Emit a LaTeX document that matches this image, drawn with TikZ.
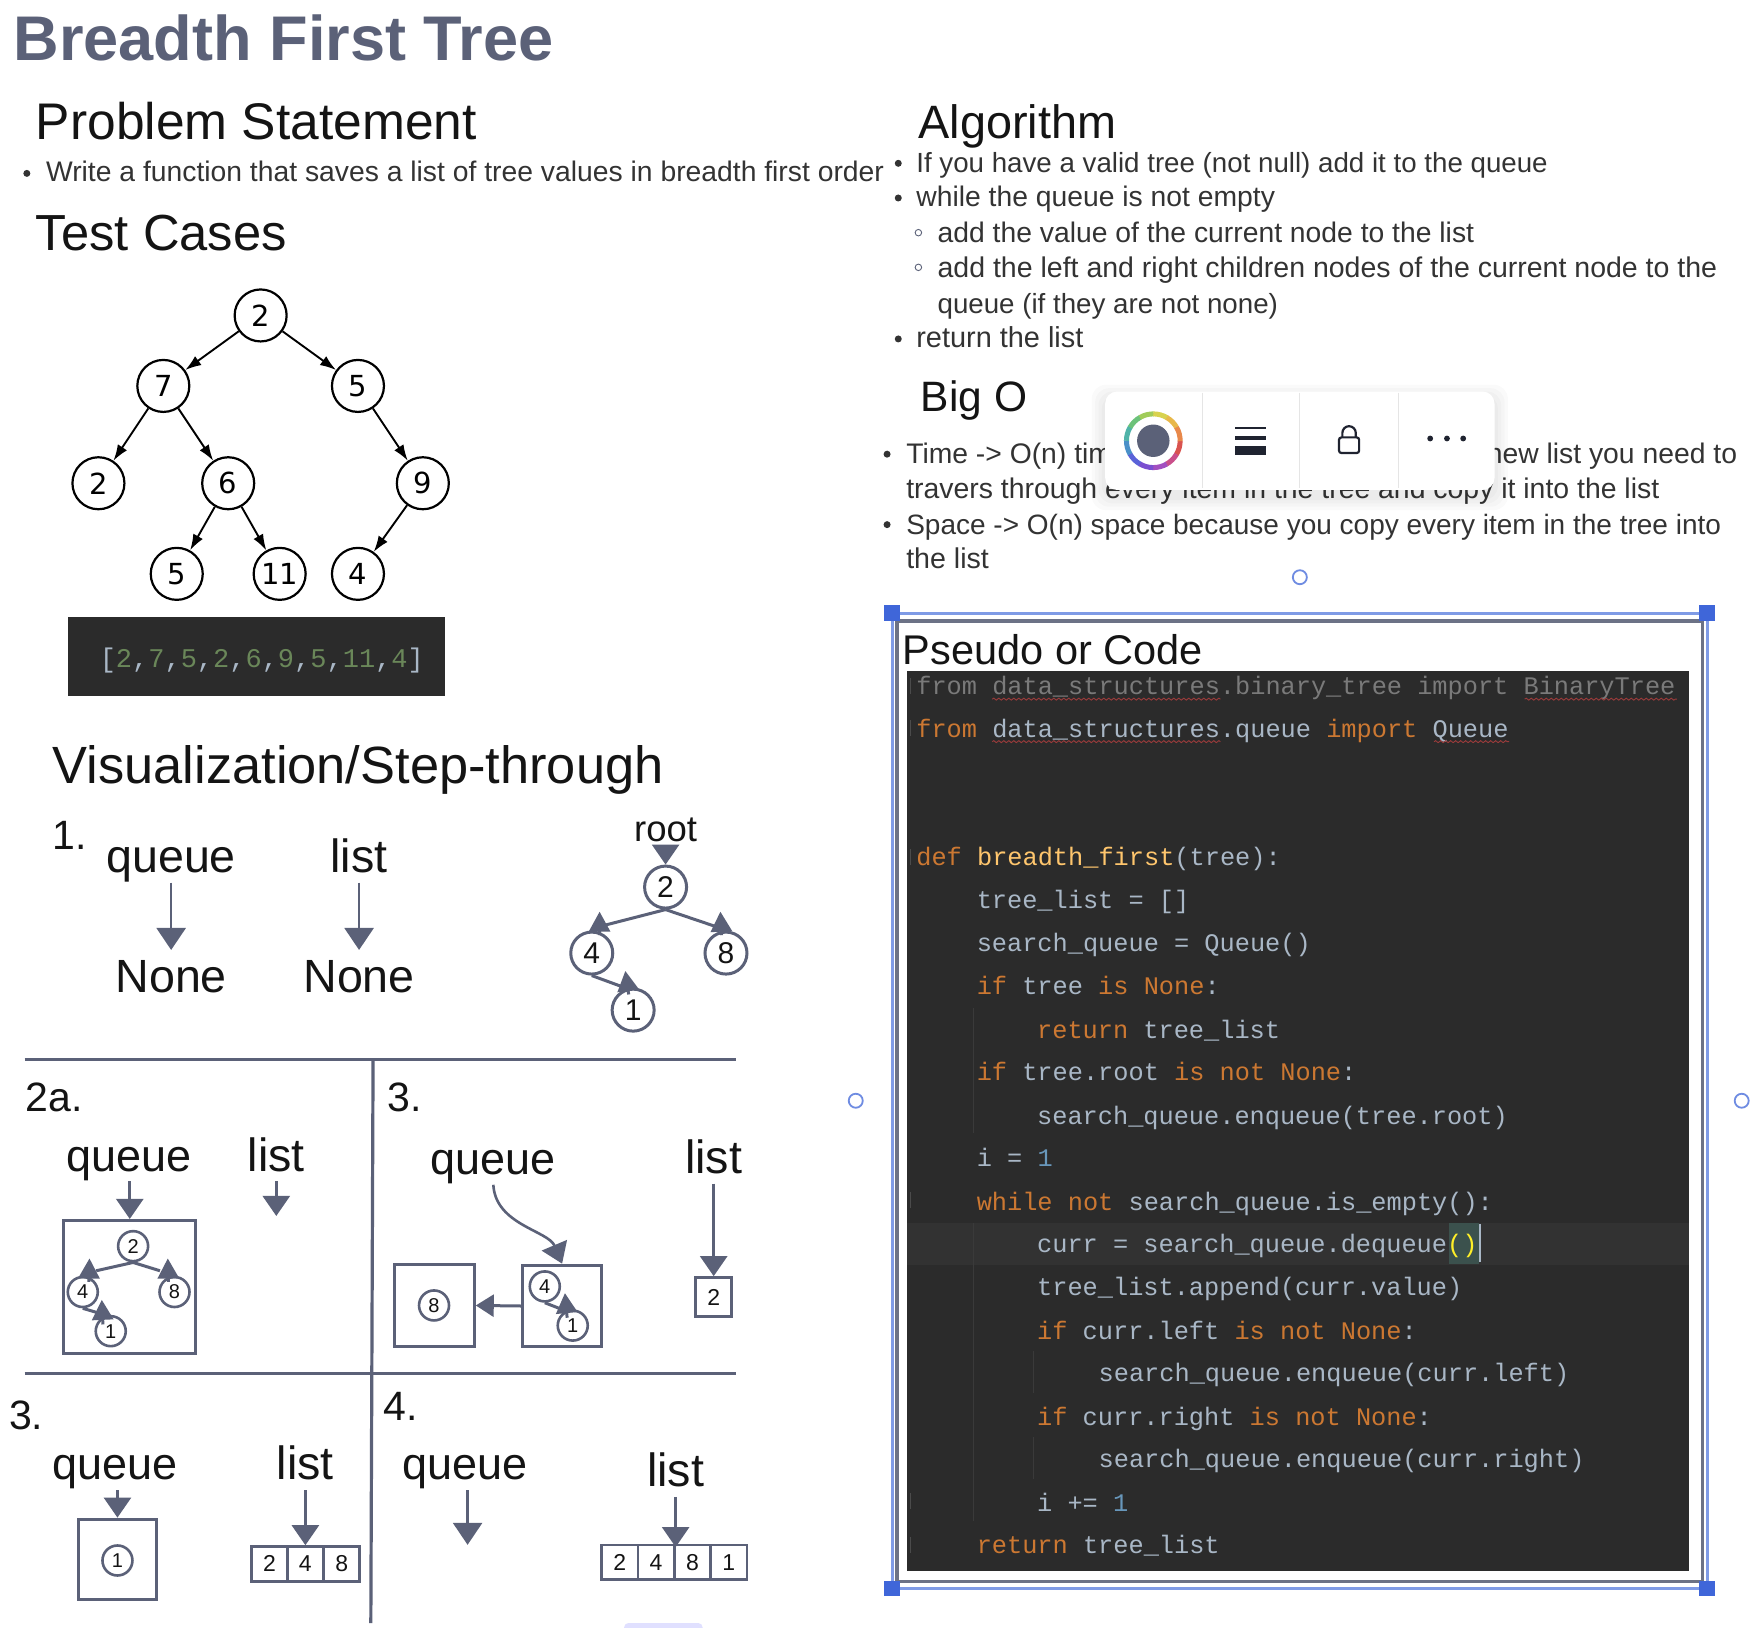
\documentclass[tikz,border=0pt]{standalone}
\usepackage{fontspec}
\setmainfont{Liberation Sans}
\setmonofont{Liberation Mono}
\newfontfamily\treefont{DejaVu Sans}
\usetikzlibrary{arrows.meta,decorations.pathmorphing}

\definecolor{slate}{HTML}{5B6178}
\definecolor{headink}{HTML}{141414}
\definecolor{bodyink}{HTML}{333333}
\definecolor{panel}{HTML}{2B2B2B}
\definecolor{panelline}{HTML}{323232}
\definecolor{guide}{HTML}{3A3A3A}
\definecolor{codetxt}{HTML}{A9B7C6}
\definecolor{codedim}{HTML}{7A7A7A}
\definecolor{codekw}{HTML}{CC7832}
\definecolor{codefn}{HTML}{FFC66D}
\definecolor{codenum}{HTML}{6897BB}
\definecolor{codegreen}{HTML}{6A8759}
\definecolor{codewave}{HTML}{9A3B3B}
\definecolor{matchbg}{HTML}{3B514D}
\definecolor{matchfg}{HTML}{FFEF28}
\definecolor{selblue}{HTML}{7F9BE6}
\definecolor{handle}{HTML}{3F66D9}
\definecolor{framegray}{HTML}{6C7286}
\definecolor{toolink}{HTML}{1F2330}

\newcommand{\fsz}[1]{\fontsize{#1}{#1}\selectfont}
\newcommand{\kw}[1]{\textcolor{codekw}{#1}}
\newcommand{\fnm}[1]{\textcolor{codefn}{#1}}
\newcommand{\nmb}[1]{\textcolor{codenum}{#1}}
\newcommand{\grn}[1]{\textcolor{codegreen}{#1}}

\tikzset{
  txt/.style={anchor=base west,inner sep=0pt},
  head/.style={txt,text=headink,font=\fsz{50}},
  body/.style={txt,text=bodyink,font=\fsz{28.3}},
  steplbl/.style={txt,text=headink,font=\fsz{41}},
  lbl/.style={anchor=base,inner sep=0pt,text=headink,text depth=10pt,font=\fsz{46.6}},
  qlbl/.style={lbl,font=\fsz{45}},
  code/.style={txt,text=codetxt,font=\ttfamily\fsz{25.3}},
  dotb/.style={circle,fill=bodyink,inner sep=0pt,minimum size=7pt},
  ringb/.style={circle,draw=slate,line width=.9pt,inner sep=0pt,minimum size=6.5pt},
  treenode/.style={circle,draw=black,line width=2.2pt,fill=white,inner sep=0pt,minimum size=52pt,font=\treefont\fsz{29}},
  treearrow/.style={-{Latex[length=16pt,width=11pt]},line width=1.9pt,black},
  ptr/.style={-{Triangle[length=22pt,width=29pt]},draw=slate,line width=2.6pt},
  ptrs/.style={-{Triangle[length=20pt,width=27pt]},draw=slate,line width=2.6pt},
  hook/.style={-{Triangle[length=20pt,width=21pt]},draw=slate,line width=3pt},
  numbig/.style={circle,draw=slate,line width=3pt,fill=white,inner sep=0pt,minimum size=42pt,text=headink,font=\fsz{30}},
  numsmall/.style={circle,draw=slate,line width=2.6pt,fill=white,inner sep=0pt,minimum size=30pt,text=headink,font=\fsz{20}},
  qbox/.style={rectangle,draw=slate,line width=3pt,inner sep=0pt},
  cell/.style={rectangle,draw=slate,line width=2.6pt,inner sep=0pt,minimum height=34.7pt,text=headink,font=\fsz{23}},
  rule/.style={draw=slate,line width=3.2pt},
  sized/.style={rectangle,fill=handle,inner sep=0pt,minimum size=15.7pt},
  turn/.style={circle,draw=handle!75,line width=1.8pt,fill=white,inner sep=0pt,minimum size=14pt},
}

\begin{document}
\begin{tikzpicture}[x=1.1186pt,y=-1.1186pt]
\useasboundingbox (0,0) rectangle (1568,1455);
\fill[white] (0,0) rectangle (1568,1455);

\node[txt,text=slate,font=\bfseries\fsz{63.1}] (title) at (12,54) {Breadth First Tree};
\node[head,font=\fsz{51.5}] (hproblem) at (32,125) {Problem Statement};
\node[dotb] (bw) at (24,155) {};
\node[body] (twrite) at (41,162) {Write a function that saves a list of tree values in breadth first order};
\node[head,font=\fsz{50.7}] (htest) at (32,224) {Test Cases};

% test tree
\node[treenode] (a) at (233,282) {2};
\node[treenode] (b) at (146,345) {7};
\node[treenode] (c) at (320,345) {5};
\node[treenode] (d) at (88,432) {2};
\node[treenode] (e) at (204,432) {6};
\node[treenode] (f) at (378,432) {9};
\node[treenode] (g) at (158,513) {5};
\node[treenode] (h) at (250,513) {11};
\node[treenode] (i) at (320,513) {4};
\draw[treearrow] (a)--(b);
\draw[treearrow] (a)--(c);
\draw[treearrow] (b)--(d);
\draw[treearrow] (b)--(e);
\draw[treearrow] (c)--(f);
\draw[treearrow] (e)--(g);
\draw[treearrow] (e)--(h);
\draw[treearrow] (f)--(i);

\fill[panel] (61,552) rectangle (398,622);
\node[txt,text=codetxt,font=\ttfamily\fsz{27}] (tresult) at (89,597) {[\grn{2},\grn{7},\grn{5},\grn{2},\grn{6},\grn{9},\grn{5},\grn{11},\grn{4}]};

% right column text
\node[head,font=\fsz{46.8}] (halgo) at (821,124) {Algorithm};
\node[dotb] (ba) at (803,146) {};
\node[body,font=\fsz{27.7}] (ta) at (819,154) {If you have a valid tree (not null) add it to the queue};
\node[dotb] (bb) at (803,177) {};
\node[body] (tb) at (819,185) {while the queue is not empty};
\node[ringb] (bc) at (821,208) {};
\node[body] (tc) at (838,217) {add the value of the current node to the list};
\node[ringb] (bd) at (821,239) {};
\node[body,font=\fsz{28.5}] (td) at (838,248) {add the left and right children nodes of the current node to the};
\node[body,font=\fsz{27.7}] (te) at (838,280) {queue (if they are not none)};
\node[dotb] (bf) at (803,303) {};
\node[body,font=\fsz{28.9}] (tf) at (819,311) {return the list};

\node[head,font=\fsz{42.5}] (hbig) at (823,368) {Big O};
\node[dotb] (bg) at (793,406) {};
\node[body] (tg) at (810,414) {Time -> O(n) tim};
\node[body,anchor=base east] (tgb) at (1553,414) {new list you need to};
\node[body,font=\fsz{28.4}] (th) at (810,445.5) {travers through every item in the tree and copy it into the list};
\node[dotb] (bi) at (793,469) {};
\node[body,font=\fsz{28}] (ti) at (810,477.5) {Space -> O(n) space because you copy every item in the tree into};
\node[body,font=\fsz{28.6}] (tj) at (810,508.5) {the list};

% toolbar
\foreach \g in {12,9,6,3}
  \fill[black,opacity=.02,rounded corners=14pt] (988-\g,350-\g+6) rectangle (1336+\g,438+\g+6);
\fill[white,rounded corners=12pt] (988,350) rectangle (1336,438);
\foreach \sx in {1075,1162,1250}
  \draw[black!10,line width=1pt] (\sx,351) -- (\sx,436);
\foreach \ang/\col in {0/D9534F,30/C94F8A,60/A24FC0,90/7A4FD0,120/5A62D8,150/4A90C8,180/4FB3A8,210/6CC27A,240/A0CC5A,270/D8D24F,300/E8B84A,330/E8884A}{
  \definecolor{wheel}{HTML}{\col}
  \draw[wheel,line width=5pt] (1031,394) ++(\ang:24) arc[start angle=\ang,delta angle=31,radius=24];
}
\fill[slate] (1031,394) circle[radius=14.5];
\fill[toolink] (1104,381.5) rectangle (1132,383.5);
\fill[toolink] (1104,390) rectangle (1132,393.5);
\fill[toolink] (1104,399) rectangle (1132,406.5);
\draw[toolink,line width=2.2pt,rounded corners=2.5pt] (1197,391) rectangle (1215,405);
\draw[toolink,line width=2.2pt] (1200,391) -- (1200,387) arc[start angle=180,end angle=360,radius=6] -- (1212,391);
\foreach \dx in {1278.5,1293.5,1308}
  \fill[toolink] (\dx,392) circle[radius=2.6];

% code frame
\node[turn] (rottop) at (1162,516) {};
\node[turn] (rotleft) at (765,984) {};
\node[turn] (rotright) at (1557,984) {};
\draw[framegray,line width=3.4pt] (802,555) rectangle (1522,1414);
\draw[selblue,line width=3pt] (797.5,548) rectangle (1526,1420);
\node[sized] (hnw) at (797.5,548) {};
\node[sized] (hne) at (1526,548) {};
\node[sized] (hsw) at (797.5,1420) {};
\node[sized] (hse) at (1526,1420) {};
\node[head,font=\fsz{41.5}] (hcode) at (807,594) {Pseudo or Code};

\fill[panel] (811,600) rectangle (1510,1404);
\fill[panelline] (811,1093) rectangle (1510,1131);
\foreach \fy in {613,651,766,1073,1342,1381}
  \draw[codedim!40!panel,line width=1pt] (813.5,\fy-7) -- (813.5,\fy+7);
\draw[guide,line width=1pt] (870,901) -- (870,1013);
\draw[guide,line width=1pt] (870,1093) -- (870,1360);
\draw[guide,line width=1pt] (924,1208) -- (924,1245);
\draw[guide,line width=1pt] (924,1285) -- (924,1322);
\fill[matchbg] (1295,1093) rectangle (1322,1130);
\draw[codetxt,line width=1.2pt] (1323,1094) -- (1323,1128);

\node[code,text=codedim] (l1) at (819,621) {from data\_structures.binary\_tree import BinaryTree};
\node[code] (l2) at (819,659) {\kw{from} data\_structures.queue \kw{import} Queue};
\node[code] (l3) at (819,774) {\kw{def} \fnm{breadth\_first}(tree):};
\node[code] (l4) at (873,812) {tree\_list = []};
\node[code] (l5) at (873,851) {search\_queue = Queue()};
\node[code] (l6) at (873,889) {\kw{if} tree \kw{is} \kw{None}:};
\node[code] (l7) at (927,928) {\kw{return} tree\_list};
\node[code] (l8) at (873,966) {\kw{if} tree.root \kw{is} \kw{not} \kw{None}:};
\node[code] (l9) at (927,1005) {search\_queue.enqueue(tree.root)};
\node[code] (l10) at (873,1043) {i = \nmb{1}};
\node[code] (l11) at (873,1082) {\kw{while} \kw{not} search\_queue.is\_empty():};
\node[code] (l12) at (927,1120) {curr = search\_queue.dequeue\textcolor{matchfg}{()}};
\node[code] (l13) at (927,1158) {tree\_list.append(curr.value)};
\node[code] (l14) at (927,1197) {\kw{if} curr.left \kw{is} \kw{not} \kw{None}:};
\node[code] (l15) at (982,1235) {search\_queue.enqueue(curr.left)};
\node[code] (l16) at (927,1274) {\kw{if} curr.right \kw{is} \kw{not} \kw{None}:};
\node[code] (l17) at (982,1312) {search\_queue.enqueue(curr.right)};
\node[code] (l18) at (927,1351) {i += \nmb{1}};
\node[code] (l19) at (873,1389) {\kw{return} tree\_list};

\foreach \wa/\wb/\wy in {887/1091/625,1363/1499/625,887/1091/663,1282/1349/663}
  \draw[codewave,line width=.9pt,decorate,decoration={snake,amplitude=1pt,segment length=5pt}] (\wa,\wy) -- (\wb,\wy);

% step-through
\node[head,font=\fsz{52.4}] (hvis) at (47,700) {Visualization/Step-through};

% step 1
\node[steplbl] (n1) at (47,759) {1.};
\node[lbl] (q1) at (153,780) {queue};
\node[lbl] (l1b) at (321,780) {list};
\node[lbl] (none1) at (153,887) {None};
\node[lbl] (none2) at (321,887) {None};
\draw[ptr,shorten >=10pt] (q1.south) -- (none1.north);
\draw[ptr,shorten >=10pt] (l1b.south) -- (none2.north);
\node[lbl,text depth=0pt,font=\fsz{36.5}] (root) at (595,752) {root};
\node[numbig] (s2) at (595,793) {2};
\node[numbig] (s4) at (529,852) {4};
\node[numbig] (s8) at (649,852) {8};
\node[numbig] (s1) at (566,903) {1};
\coordinate (tip4) at (536,815);
\coordinate (tip8) at (644,815);
\coordinate (tip1) at (559,868);
\draw[hook] (s2.south) -- (541,827) (536,836) -- (tip4);
\draw[hook] (s2.south) -- (639,828) (645,836) -- (tip8);
\draw[hook] (s4.south) -- (556,882) (562,889) -- (tip1);
\draw[ptrs,shorten <=9pt] (root.south) -- (s2.north);

% rules
\draw[rule] (22,947) -- (658,947);
\draw[rule] (22,1228) -- (658,1228);
\coordinate (ruletop) at (333.5,947);
\coordinate (rulebot) at (331.5,1451);
\draw[rule] (ruletop) -- (rulebot);

% step 2a
\node[steplbl] (n2a) at (23,994) {2a.};
\node[qlbl] (q2) at (115,1047) {queue};
\node[lbl] (l2b) at (247,1047) {list};
\node[qbox,minimum width=132pt,minimum height=133.1pt] (box2) at (116,1150.5) {};
\coordinate (end2) at (247,1087);
\draw[ptrs] (q2.south -| box2.north) -- (box2.north);
\draw[ptrs] (l2b.south) -- (end2);
\node[numsmall] (a2) at (119,1114) {2};
\node[numsmall] (a4) at (74,1155) {4};
\node[numsmall] (a8) at (156,1155) {8};
\node[numsmall] (a1) at (99,1190) {1};
\coordinate (tipa4) at (80,1125);
\coordinate (tipa8) at (150,1125);
\coordinate (tipa1) at (91,1162);
\draw[hook] (a2.south) -- (86,1136) (79.5,1146) -- (tipa4);
\draw[hook] (a2.south) -- (143,1136) (150.5,1146) -- (tipa8);
\draw[hook] (a4.south) -- (89,1174) (92,1184) -- (tipa1);

% step 3 top
\node[steplbl] (n3) at (346,994) {3.};
\node[qlbl] (q3) at (441,1050) {queue};
\node[lbl] (l3b) at (638,1049) {list};
\node[qbox,minimum width=79.4pt,minimum height=81.7pt] (boxr) at (502.5,1167.5) {};
\node[qbox,minimum width=79.4pt,minimum height=82.8pt] (boxl) at (388.5,1167) {};
\node[qbox,line width=2.6pt,minimum width=35.8pt,minimum height=39.2pt,text=headink,font=\fsz{23}] (box3) at (638,1159.5) {2};
\draw[ptrs] (q3.south) .. controls (443,1095) and (490,1100) .. (boxr.north);
\draw[ptrs] (l3b.south) -- (box3.north);
\draw[-{Triangle[length=18pt,width=22pt]},draw=slate,line width=3pt] (boxr.west) -- (boxl.east);
\node[numsmall] (b8) at (388,1167) {8};
\node[numsmall] (b4) at (487,1150) {4};
\node[numsmall] (b1) at (512,1185) {1};
\coordinate (tipb1) at (505,1156);
\draw[hook] (b4.south) -- (501,1170) (507,1178) -- (tipb1);

% step 3 bottom
\node[steplbl] (n3b) at (8,1278) {3.};
\node[qlbl] (q4) at (103,1323) {queue};
\node[lbl] (l4b) at (273,1323) {list};
\node[qbox,minimum width=78.3pt,minimum height=80.5pt] (box4) at (105,1394) {};
\node[numsmall] (c1) at (105,1395) {1};
\node[cell,minimum width=36.1pt] (ca) at (241,1398) {2};
\node[cell,minimum width=36.1pt] (cb) at (273,1398) {4};
\node[cell,minimum width=36.1pt] (cc) at (305.5,1398) {8};
\draw[ptrs] (q4.south -| box4.north) -- (box4.north);
\draw[ptrs] (l4b.south) -- (cb.north);

% step 4
\node[qlbl] (q5) at (416,1323) {queue};
\node[steplbl] (n4) at (343,1270) {4.};
\node[lbl] (l5b) at (604,1329) {list};
\coordinate (end5) at (418,1381);
\node[cell,minimum width=36.4pt] (da) at (554,1396.5) {2};
\node[cell,minimum width=36.4pt] (db) at (586.5,1396.5) {4};
\node[cell,minimum width=36.4pt] (dc) at (619,1396.5) {8};
\node[cell,minimum width=36.4pt] (dd) at (651.5,1396.5) {1};
\coordinate (end6) at (604,1383);
\draw[ptr] (q5.south -| end5) -- (end5);
\draw[ptrs] (l5b.south) -- (end6);

\fill[blue!12,rounded corners=4pt] (558,1451) rectangle (628,1470);
\end{tikzpicture}
\end{document}
